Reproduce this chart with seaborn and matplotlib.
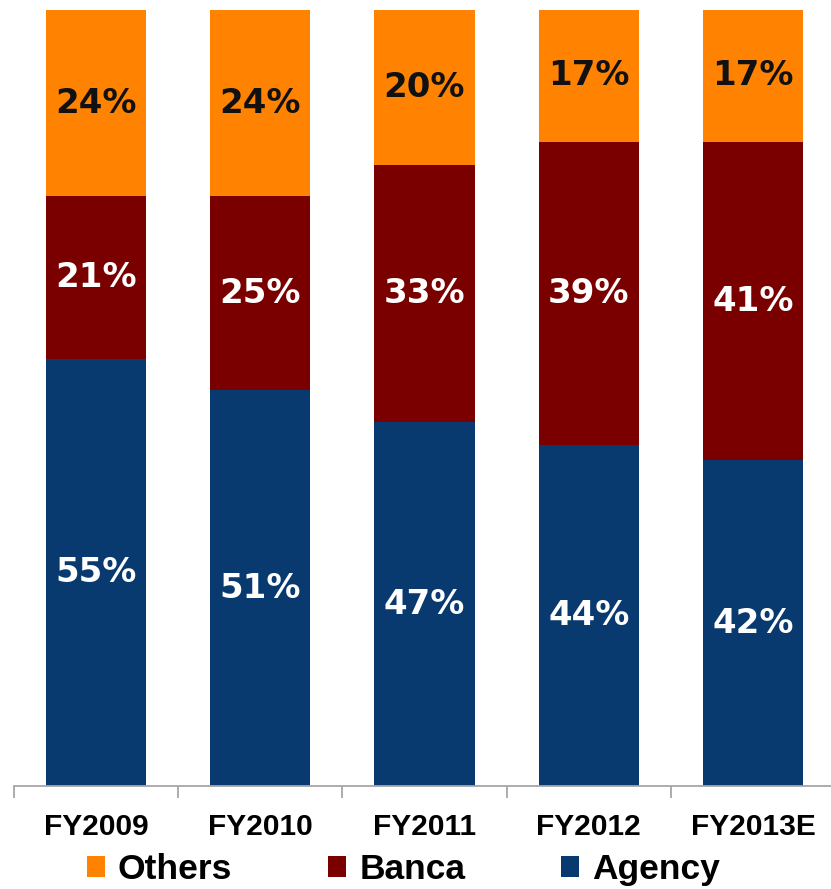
import matplotlib
matplotlib.use("Agg")
import matplotlib.pyplot as plt
from matplotlib.patches import Patch
from matplotlib.ticker import FixedLocator
import seaborn as sns
import pandas as pd

# Channel mix by fiscal year (% of total)
years = ["FY2009", "FY2010", "FY2011", "FY2012", "FY2013E"]
agency = [55, 51, 47, 44, 42]
banca = [21, 25, 33, 39, 41]
others = [24, 24, 20, 17, 17]

series_names = ["Others", "Banca", "Agency"]
colors = {"Others": "#FF8300", "Banca": "#7A0000", "Agency": "#093A6F"}
label_colors = {"Others": "#111111", "Banca": "white", "Agency": "white"}

df = pd.DataFrame({"year": years, "Agency": agency, "Banca": banca, "Others": others})
df["top_banca"] = df["Agency"] + df["Banca"]
df["top_others"] = df["top_banca"] + df["Others"]

sns.set_theme(style="white")
plt.rcParams["font.family"] = ["DejaVu Sans"]

fig = plt.figure(figsize=(8.31, 8.89), dpi=100)
ax = fig.add_axes([0.0, 0.1153, 1.0, 0.8735])

bar_w = 0.61
# stacked bars drawn as cumulative totals, tallest first
for col, name in [("top_others", "Others"), ("top_banca", "Banca"), ("Agency", "Agency")]:
    sns.barplot(data=df, x="year", y=col, color=colors[name], saturation=1,
                width=bar_w, linewidth=0, ax=ax)

# value labels at the middle of each segment
for i in range(len(years)):
    base = 0
    for name, vals in [("Agency", agency), ("Banca", banca), ("Others", others)]:
        v = vals[i]
        ax.text(i, base + v / 2, f"{v}%", ha="center", va="center",
                fontsize=24.5, fontweight="bold", color=label_colors[name],
                family="DejaVu Sans")
        base += v

ax.set_ylim(0, 100)
ax.set_xlim(-0.5845, 4.475)
ax.set_xlabel("")
ax.set_ylabel("")
ax.set_yticks([])

for s in ["left", "right", "top"]:
    ax.spines[s].set_visible(False)
ax.spines["bottom"].set_color("#A6A6A6")
ax.spines["bottom"].set_linewidth(1.3)
ax.spines["bottom"].set_bounds(-0.5, 4.475)

ax.set_xticks(range(len(years)))
ax.set_xticklabels(years, fontsize=21.5, family="Liberation Sans",
                   fontweight="bold", color="black")
ax.tick_params(axis="x", which="major", length=0, pad=19)
ax.xaxis.set_minor_locator(FixedLocator([i - 0.5 for i in range(len(years) + 1)]))
ax.tick_params(axis="x", which="minor", length=8.5, width=1.3, color="#A6A6A6",
               direction="out", bottom=True)

handles = [Patch(facecolor=colors[n], edgecolor="none", label=n) for n in series_names]
fig.legend(handles=handles, loc="center", bbox_to_anchor=(0.4856, 0.022), ncol=3,
           frameon=False, prop={"family": "Liberation Sans", "size": 25.5, "weight": "bold"},
           labelcolor="black",
           handlelength=0.51, handleheight=0.56, handletextpad=0.37,
           columnspacing=2.71, borderpad=0, borderaxespad=0)

fig.savefig("out.png", dpi=100)
